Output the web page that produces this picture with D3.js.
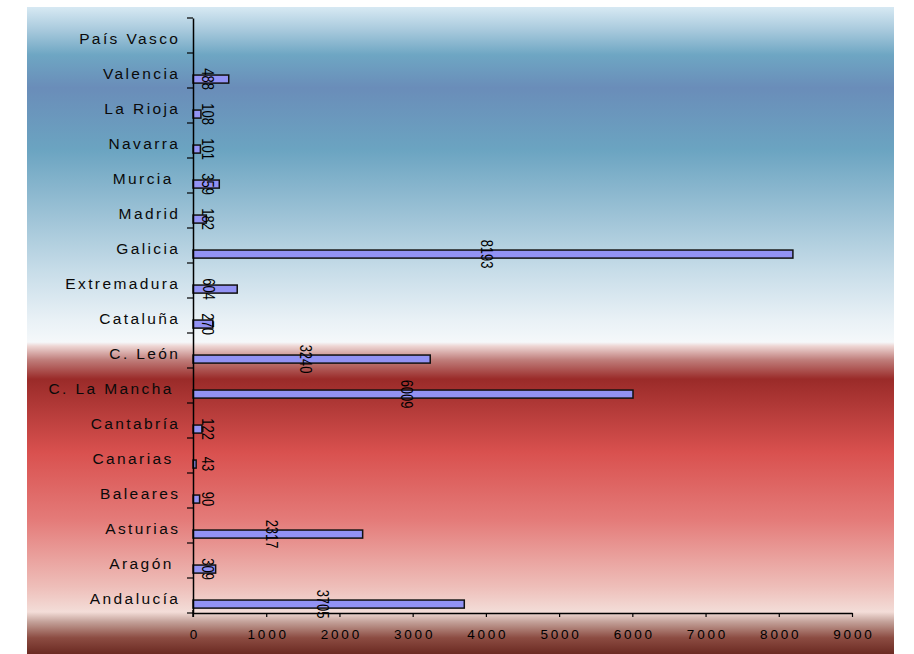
<!DOCTYPE html>
<html><head><meta charset="utf-8">
<script src="https://cdn.jsdelivr.net/npm/d3@7"></script>
<style>body{margin:0;background:#fff} svg{display:block}</style>
</head><body><svg id="c" width="914" height="654"></svg>
<script>
// Data (top to bottom as drawn)
const categories = ["País Vasco","Valencia","La Rioja","Navarra","Murcia ","Madrid","Galicia","Extremadura","Cataluña","C. León","C. La Mancha ","Cantabría","Canarias ","Baleares","Asturias","Aragón ","Andalucía"];
const values = [null,488,108,101,359,182,8193,604,270,3240,6009,122,43,90,2317,309,3705];
const xTicks = [0,1000,2000,3000,4000,5000,6000,7000,8000,9000];

const svg = d3.select("#c");
const W = 914, H = 654;
const FONT = "'Liberation Sans', Arial, sans-serif";

// background gradient
const bgStops = [
  [0.000,"#d7e9f3"],[0.035,"#a9cadd"],[0.074,"#6ea6c3"],[0.125,"#6a8db9"],
  [0.221,"#6ba4c1"],[0.298,"#91bbd1"],[0.406,"#c6dce8"],[0.484,"#e9f1f6"],
  [0.518,"#f5f8fa"],[0.524,"#eed6d4"],[0.545,"#c07f7c"],[0.575,"#9a2b29"],
  [0.689,"#d9514f"],[0.793,"#e47b79"],[0.896,"#eebeb9"],[0.935,"#f3ddd8"],
  [0.950,"#c4a29a"],[0.975,"#8c4c42"],[1.000,"#6b2a22"]
];
const defs = svg.append("defs");
const lg = defs.append("linearGradient").attr("id","bg").attr("x1",0).attr("y1",0).attr("x2",0).attr("y2",1);
lg.selectAll("stop").data(bgStops).join("stop")
  .attr("offset", d => d[0]).attr("stop-color", d => d[1]);
svg.append("rect").attr("x",27).attr("y",7).attr("width",867).attr("height",H-7).attr("fill","url(#bg)");

const x = d3.scaleLinear().domain([0,9000]).range([193,852]);
const y = d3.scaleBand().domain(categories).range([18,613]).padding(0);
const bw = y.bandwidth();

// bars
const data = categories.map((c,i) => ({c, v: values[i]})).filter(d => d.v != null);
svg.append("g").selectAll("rect").data(data).join("rect")
  .attr("x", x(0))
  .attr("y", d => y(d.c) + bw*0.63)
  .attr("width", d => x(d.v) - x(0))
  .attr("height", bw*0.23)
  .attr("fill", "#9292f4")
  .attr("stroke", "#111")
  .attr("stroke-width", 1.5);

// x axis
const xa = svg.append("g").attr("transform", "translate(0,613)")
  .call(d3.axisBottom(x).tickValues(xTicks).tickSize(4).tickSizeOuter(0).tickFormat(d3.format("d")));
xa.select(".domain").attr("stroke","#000").attr("stroke-width",1.3);
xa.selectAll(".tick line").attr("stroke","#000").attr("stroke-width",1.2);
xa.selectAll(".tick text").attr("y",16).attr("dx",1.4)
  .style("font-family",FONT).style("font-size","13.5px")
  .style("letter-spacing","2.8px").attr("fill","#000");

// y axis
const ya = svg.append("g").attr("transform", `translate(${x(0)},0)`)
  .call(d3.axisLeft(y).tickValues([]).tickSizeOuter(0));
ya.select(".domain").attr("stroke","#000").attr("stroke-width",1.5);
svg.append("line").attr("x1",x(0)).attr("x2",x(0)).attr("y1",610).attr("y2",617).attr("stroke","#000").attr("stroke-width",1.5);
const bounds = categories.map(c => y(c)).concat([y.range()[1]]);
svg.append("g").selectAll("line").data(bounds).join("line")
  .attr("x1", x(0) - 6).attr("x2", x(0)).attr("y1", d => d).attr("y2", d => d)
  .attr("stroke","#000").attr("stroke-width",1.2);

// category labels
svg.append("g").selectAll("text").data(categories).join("text")
  .attr("x", 180.4)
  .attr("y", d => y(d) + bw/2 + 2.5)
  .attr("text-anchor","end").attr("dominant-baseline","central")
  .style("white-space","pre")
  .style("font-family",FONT).style("font-size","15.5px")
  .style("letter-spacing","2.4px").attr("fill","#0a0a0a")
  .text(d => d);

// data labels (rotated)
svg.append("g").selectAll("text").data(data).join("text")
  .attr("transform", d => {
    const lx = Math.max((x(0) + x(d.v))/2 - 6, x(0) + 15);
    const ly = y(d.c) + bw*0.63 + bw*0.115;
    return `translate(${lx},${ly}) rotate(90) scale(1,1.3)`;
  })
  .attr("text-anchor","middle").attr("dy","0.35em")
  .style("font-family",FONT).style("font-size","13px")
  .attr("fill","#000")
  .text(d => d.v);
</script>
</body></html>
